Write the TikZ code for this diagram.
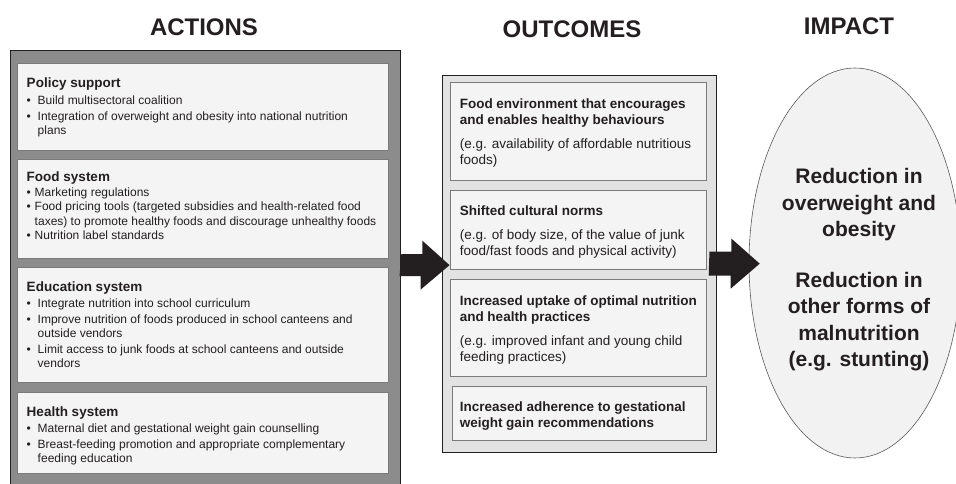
\documentclass[tikz,border=0pt]{standalone}
\usepackage{fontspec}
\setmainfont{Liberation Sans}
\usetikzlibrary{shapes.geometric}
\definecolor{ink}{HTML}{231F20}
\definecolor{actfill}{HTML}{8C8C8C}
\definecolor{boxfill}{HTML}{F4F4F4}
\definecolor{boxline}{HTML}{7A7A7A}
\definecolor{outfill}{HTML}{E2E2E2}
\definecolor{ellfill}{HTML}{F2F2F2}
\newcommand\hd{\bfseries\fontsize{13.5}{14}\selectfont}
\newcommand\nm{\mdseries\fontsize{12}{14}\selectfont}
\newcommand\bu{\makebox[11pt][l]{\textbullet}}
\newcommand\bs{\makebox[8pt][l]{\textbullet}}
\newcommand\ind{\hspace*{11pt}}
\newcommand\inds{\hspace*{8pt}}
\newcommand\ohd{\bfseries\fontsize{13.5}{16}\selectfont}
\newcommand\onm{\mdseries\fontsize{13.5}{16}\selectfont}
\begin{document}
\begin{tikzpicture}[x=1pt,y=-1pt,
  title/.style={font=\bfseries\fontsize{24}{28}\selectfont, text=ink, inner sep=0},
  outerbox/.style={draw=ink, line width=1.3pt, anchor=north west, inner sep=0},
  innerbox/.style={draw=boxline, line width=0.9pt, fill=boxfill, inner sep=0},
  btext/.style={anchor=west, align=left, inner sep=0, text=ink, font=\nm},
  otext/.style={anchor=west, align=left, inner sep=0, text=ink, font=\onm},
  arrowfill/.style={fill=ink}]
\clip (0,0) rectangle (956,484);
\fill[white] (0,0) rectangle (956,484);
% titles
\node[title] (tact) at (204,27) {ACTIONS};
\node[title] (tout) at (572,29) {OUTCOMES};
\node[title] (timp) at (849,26) {IMPACT};
% ACTIONS column
\node[outerbox, fill=actfill, minimum width=390, minimum height=440] (actions) at (10,50) {};
\node[innerbox, minimum width=371, minimum height=87] (policy) at (202.5,106.5) {};
\node[innerbox, minimum width=371, minimum height=99] (food) at (202.5,208.5) {};
\node[innerbox, minimum width=371, minimum height=115] (edu) at (202.5,324.5) {};
\node[innerbox, minimum width=371, minimum height=81] (health) at (202.5,432.5) {};
\node[btext] (policyt) at ([xshift=10,yshift=-1]policy.west) {\hd Policy support\\[3pt]
\nm\bu Build multisectoral coalition\\[2pt]
\bu Integration of overweight and obesity into national nutrition\\
\ind plans};
\node[btext] (foodt) at ([xshift=10,yshift=3]food.west) {\hd Food system\\[1pt]
\nm\bs Marketing regulations\\[0.5pt]
\bs Food pricing tools (targeted subsidies and health-related food\\[0.5pt]
\inds taxes) to promote healthy foods and discourage unhealthy foods\\[0.5pt]
\bs Nutrition label standards};
\node[btext] (edut) at ([xshift=10]edu.west) {\hd Education system\\[2pt]
\nm\bu Integrate nutrition into school curriculum\\[2pt]
\bu Improve nutrition of foods produced in school canteens and\\
\ind outside vendors\\[2pt]
\bu Limit access to junk foods at school canteens and outside\\
\ind vendors};
\node[btext] (healtht) at ([xshift=10,yshift=-3.5]health.west) {\hd Health system\\[2pt]
\nm\bu Maternal diet and gestational weight gain counselling\\[2pt]
\bu Breast-feeding promotion and appropriate complementary\\
\ind feeding education};
% OUTCOMES column
\node[outerbox, fill=outfill, minimum width=274, minimum height=377] (outcomes) at (442,75) {};
\node[innerbox, minimum width=256, minimum height=98] (o1) at (578,131) {};
\node[innerbox, minimum width=256, minimum height=79] (o2) at (578,229.5) {};
\node[innerbox, minimum width=256, minimum height=97] (o3) at (578,327.5) {};
\node[innerbox, minimum width=254, minimum height=54] (o4) at (579,413) {};
\node[otext] (o1t) at ([xshift=10,yshift=-2]o1.west) {\ohd Food environment that encourages\\
\ohd and enables healthy behaviours\\[8pt]
\onm (e.g. availability of affordable nutritious\\
foods)};
\node[otext] (o2t) at ([xshift=10,yshift=-2.5]o2.west) {\ohd Shifted cultural norms\\[8pt]
\onm (e.g. of body size, of the value of junk\\
food/fast foods and physical activity)};
\node[otext] (o3t) at ([xshift=10,yshift=-3]o3.west) {\ohd Increased uptake of optimal nutrition\\
\ohd and health practices\\[8pt]
\onm (e.g. improved infant and young child\\
feeding practices)};
\node[otext] (o4t) at ([xshift=8,yshift=-3]o4.west) {\ohd Increased adherence to gestational\\
\ohd weight gain recommendations};
% IMPACT
\node[ellipse, draw=black!65, line width=0.6pt, fill=ellfill, minimum width=212, minimum height=390, inner sep=0] (impact) at (855,263) {};
\node[align=center, inner sep=0, text=ink, font=\bfseries\fontsize{21}{26.5}\selectfont] (impt) at (859,270)
 {Reduction in\\overweight and\\obesity\\[24pt]Reduction in\\other forms of\\malnutrition\\(e.g. stunting)};
% arrows
\path (actions.east) ++(0,-5.5) coordinate (a1t);
\fill[arrowfill] (a1t) ++(0,-11) -- ++(21,0) -- ++(0,-13.5) -- (o1.west |- a1t)
  -- ++(-29,24.5) -- ++(0,-13.5) -- ++(-21,0) -- cycle;
\path (o2.east |- outcomes.east) ++(3,-0.5) coordinate (a2t);
\fill[arrowfill] (a2t) ++(0,-12) -- ++(22,0) -- ++(0,-13) -- ([xshift=11]impact.west |- a2t)
  -- ++(-29,25) -- ++(0,-13) -- ++(-22,0) -- cycle;
\end{tikzpicture}
\end{document}
